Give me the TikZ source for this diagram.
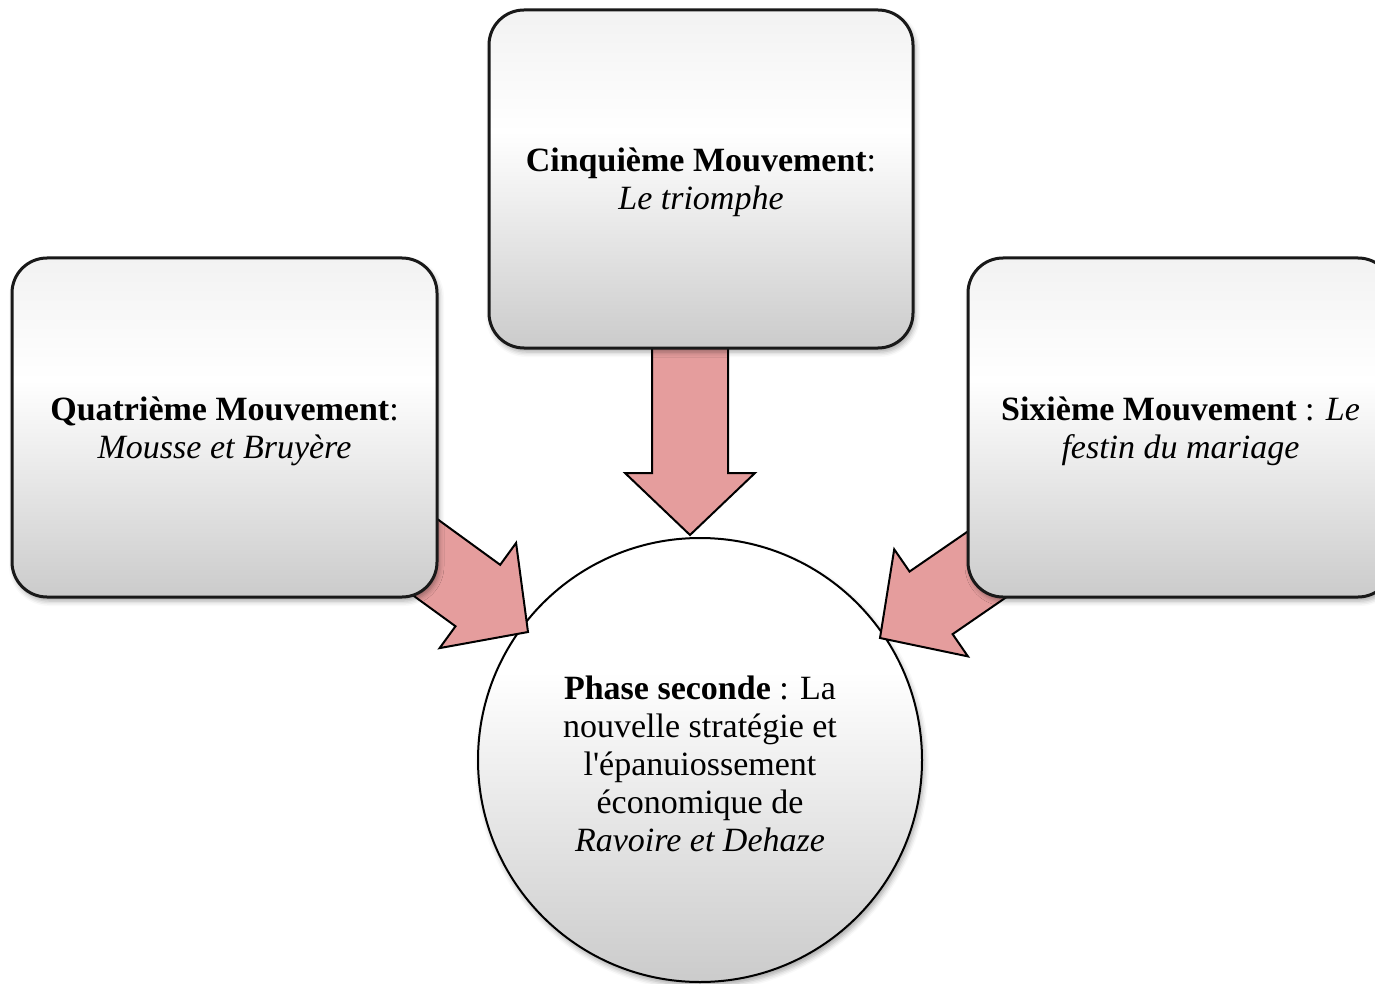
\documentclass[tikz,border=0pt]{standalone}
\usepackage{fontspec}
\setmainfont{Liberation Serif}
\usetikzlibrary{calc,shadows.blur}

\definecolor{paneltop}{HTML}{F2F2F2}
\definecolor{panelbot}{HTML}{CBCBCB}
\definecolor{arrowpink}{HTML}{E59D9D}

% light band just above the middle, darker towards the bottom
\pgfdeclareverticalshading{panelshade}{100bp}{%
  color(0bp)=(panelbot); color(25bp)=(panelbot);
  color(57bp)=(white);
  color(75bp)=(paneltop); color(100bp)=(paneltop)}
\pgfdeclareverticalshading{discshade}{100bp}{%
  color(0bp)=(panelbot); color(25bp)=(panelbot);
  color(60bp)=(white);
  color(75bp)=(white); color(100bp)=(white)}

% taller first line, pushes a label slightly down
\newcommand\topstrut{\rule{0pt}{15.5pt}}

\tikzset{
  txt/.style={font=\fontsize{17pt}{19pt}\selectfont, align=center, text=black},
  softshadow/.style={blur shadow={shadow xshift=1pt, shadow yshift=-2pt,
      shadow blur radius=2.5pt, shadow opacity=35}},
  panel/.style={txt, draw=black!90, line width=1.5pt, rounded corners=17.5pt,
      shading=panelshade, softshadow, inner sep=0pt,
      minimum height=169.5pt},
  disc/.style={txt, circle, draw=black, line width=1pt, shading=discshade,
      softshadow, minimum size=222pt, inner sep=0pt},
  fatarrow/.style={fill=arrowpink, draw=black, line width=1pt, line join=miter},
}

% block arrow from #1 (tail) to #2 (tip)
\newcommand\blockarrow[2]{%
  \path ($(#2)!31pt!(#1)$) coordinate (hb);
  \draw[fatarrow]
    ($(#1)!19pt!-90:(#2)$) -- ($(hb)!19pt!90:(#1)$) -- ($(hb)!32.5pt!90:(#1)$)
    -- (#2)
    -- ($(hb)!32.5pt!-90:(#1)$) -- ($(hb)!19pt!-90:(#1)$) -- ($(#1)!19pt!90:(#2)$)
    -- cycle;}

\begin{document}
\begin{tikzpicture}[x=0.5pt, y=-0.5pt]
  \useasboundingbox (0,0) rectangle (1375,984);
  \clip (0,0) rectangle (1375,984);

  % central disc
  \node[disc] (phase) at (700,760)
    {\topstrut\textbf{Phase seconde} : La\\
     nouvelle stratégie et\\
     l\textquotesingle épanuiossement\\
     économique de\\
     \textit{Ravoire et Dehaze}};

  % arrow ends: tails lie under the panels, tips on the disc
  \coordinate (t4) at (286,456);  \coordinate (p4) at (528,632);
  \coordinate (t5) at (690,250);  \coordinate (p5) at (690,535);
  \coordinate (t6) at (1127,468); \coordinate (p6) at (880,638);

  \blockarrow{t4}{p4}
  \blockarrow{t5}{p5}
  \blockarrow{t6}{p6}

  % the three movements
  \node[panel, minimum width=212.5pt] (m4) at (224.5,427.5)
    {\topstrut\textbf{Quatrième Mouvement}:\\ \textit{Mousse et Bruyère}};
  \node[panel, minimum width=212pt, minimum height=169pt] (m5) at (701,179)
    {\topstrut\textbf{Cinquième Mouvement}:\\ \textit{Le triomphe}};
  \node[panel, minimum width=212.5pt] (m6) at (1180.5,427.5)
    {\topstrut\textbf{Sixième Mouvement} : \textit{Le}\\ \textit{festin du mariage}};
\end{tikzpicture}
\end{document}
